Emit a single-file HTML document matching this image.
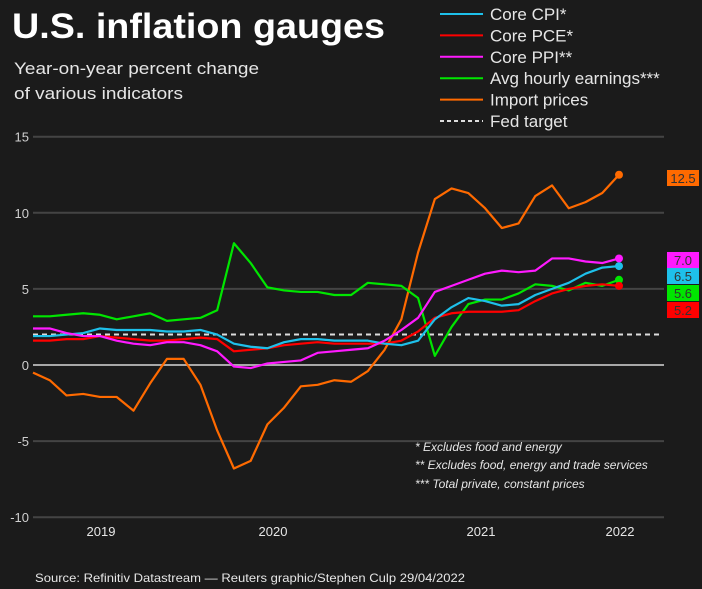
<!DOCTYPE html>
<html><head><meta charset="utf-8"><style>
html,body{margin:0;padding:0;background:#1b1b1b;}
svg{display:block;font-family:"Liberation Sans",Arial,sans-serif;}
</style></head><body>
<svg id="chart" width="702" height="589" viewBox="0 0 702 589">
<rect width="702" height="589" fill="#1b1b1b"/>
<text x="12" y="38" fill="#fff" font-size="35" font-weight="bold" textLength="373" lengthAdjust="spacingAndGlyphs">U.S. inflation gauges</text>
<text x="14" y="74" fill="#e6e6e6" font-size="17" textLength="245" lengthAdjust="spacingAndGlyphs">Year-on-year percent change</text>
<text x="14" y="99" fill="#e6e6e6" font-size="17" textLength="169" lengthAdjust="spacingAndGlyphs">of various indicators</text>
<g id="legend"></g>
<g id="grid"></g>
<g id="series"></g>
<g id="labels"></g>
<g fill="#e6e6e6" font-size="12" font-style="italic">
<text x="415" y="451">* Excludes food and energy</text>
<text x="415" y="469">** Excludes food, energy and trade services</text>
<text x="415" y="488">*** Total private, constant prices</text>
</g>
<text x="35" y="582" fill="#e6e6e6" font-size="12" textLength="430" lengthAdjust="spacingAndGlyphs">Source: Refinitiv Datastream — Reuters graphic/Stephen Culp 29/04/2022</text>
</svg>
<script>
const yTicks = [15, 10, 5, 0, -5, -10];
const years = ["2019", "2020", "2021", "2022"];
const yearPos = [101, 273, 481, 620];
const coreCPI = [1.9,1.9,2.0,2.1,2.4,2.3,2.3,2.3,2.2,2.2,2.3,2.0,1.4,1.2,1.1,1.5,1.7,1.7,1.6,1.6,1.6,1.4,1.3,1.6,3.0,3.8,4.4,4.2,3.9,4.0,4.6,5.0,5.4,6.0,6.4,6.5];
const corePCE = [1.6,1.6,1.7,1.7,1.9,1.8,1.7,1.6,1.6,1.7,1.8,1.7,0.9,1.0,1.1,1.3,1.4,1.5,1.4,1.4,1.4,1.4,1.6,2.2,3.1,3.4,3.5,3.5,3.5,3.6,4.2,4.7,5.0,5.2,5.3,5.2];
const corePPI = [2.4,2.4,2.1,1.9,1.9,1.6,1.4,1.3,1.5,1.5,1.3,0.9,-0.1,-0.2,0.1,0.2,0.3,0.8,0.9,1.0,1.1,1.6,2.3,3.1,4.8,5.2,5.6,6.0,6.2,6.1,6.2,7.0,7.0,6.8,6.7,7.0];
const earnings = [3.2,3.2,3.3,3.4,3.3,3.0,3.2,3.4,2.9,3.0,3.1,3.6,8.0,6.7,5.1,4.9,4.8,4.8,4.6,4.6,5.4,5.3,5.2,4.4,0.6,2.5,4.0,4.3,4.3,4.7,5.3,5.2,4.9,5.4,5.2,5.6];
const importPrices = [-0.5,-1.0,-2.0,-1.9,-2.1,-2.1,-3.0,-1.2,0.4,0.4,-1.3,-4.3,-6.8,-6.3,-3.9,-2.8,-1.4,-1.3,-1.0,-1.1,-0.4,1.0,3.0,7.4,10.9,11.6,11.3,10.3,9.0,9.3,11.1,11.8,10.3,10.7,11.3,12.5];
const fedTarget = 2;
const seriesNames = ["Core CPI*","Core PCE*","Core PPI**","Avg hourly earnings***","Import prices","Fed target"];
const seriesColors = ["#1ec0ea","#ff0000","#ff1aff","#00e600","#ff6a00","#dddddd"];

const NS = "http://www.w3.org/2000/svg";
const X0 = 33, X1 = 619;
const n = coreCPI.length;
function xs(i){ return X0 + (X1 - X0) * i / (n - 1); }
function ys(v){ return 365 - v * 15.22; }
function mk(tag, attrs, parent){
  const e = document.createElementNS(NS, tag);
  for (const k in attrs) e.setAttribute(k, attrs[k]);
  parent.appendChild(e); return e;
}
const grid = document.getElementById("grid");
yTicks.forEach(t => {
  const l = mk("line", {x1:33, x2:664, y1:ys(t), y2:ys(t), stroke: t===0 ? "#a8a8a8" : "#444", "stroke-width": 2}, grid);
  
  
  const tx = mk("text", {x:29, y:ys(t)+5, fill:"#d0d0d0", "font-size":13, "text-anchor":"end"}, grid);
  tx.textContent = t;
  
  
});
years.forEach((y, i) => {
  const tx = mk("text", {x:yearPos[i], y:536, fill:"#e6e6e6", "font-size":13, "text-anchor":"middle"}, grid);
  tx.textContent = y;
  
  
});
const fl = mk("line", {x1:33, x2:663, y1:ys(fedTarget), y2:ys(fedTarget), stroke:"#dddddd", "stroke-width":2, "stroke-dasharray":"5,4"}, grid);



const sg = document.getElementById("series");
const data = [importPrices, earnings, corePCE, coreCPI, corePPI];
const cidx = [4, 3, 1, 0, 2];
data.forEach((arr, k) => {
  const c = seriesColors[cidx[k]];
  const p = mk("polyline", {points: arr.map((v,i)=>xs(i)+","+ys(v)).join(" "), fill:"none", stroke:c, "stroke-width":2.2, "stroke-linejoin":"round"}, sg);
  
  
  const d = mk("circle", {cx:xs(n-1), cy:ys(arr[n-1]), r:4, fill:c}, sg);
  
  
});

const lg = document.getElementById("labels");
const lbls = [[importPrices,4,178],[corePPI,2,260],[coreCPI,0,276],[earnings,3,293],[corePCE,1,310]];
lbls.forEach(([arr, ci, cy]) => {
  const r = mk("rect", {x:667, y:cy-8, width:32, height:16, fill:seriesColors[ci]}, lg);
  
  
  const t = mk("text", {x:683, y:cy+5, fill:"#333", "font-size":13, "text-anchor":"middle"}, lg);
  t.textContent = arr[n-1].toFixed(1);
  
  
});

const leg = document.getElementById("legend");
seriesNames.forEach((s, i) => {
  const y = 14 + i * 21.4;
  const l = mk("line", {x1:440, x2:483, y1:y, y2:y, stroke:seriesColors[i], "stroke-width":2}, leg);
  if (i === 5) l.setAttribute("stroke-dasharray", "4,3");
  
  
  const t = mk("text", {x:490, y:y+6, fill:"#e6e6e6", "font-size":17}, leg);
  t.textContent = s;
  
  
});
</script>
</body></html>
